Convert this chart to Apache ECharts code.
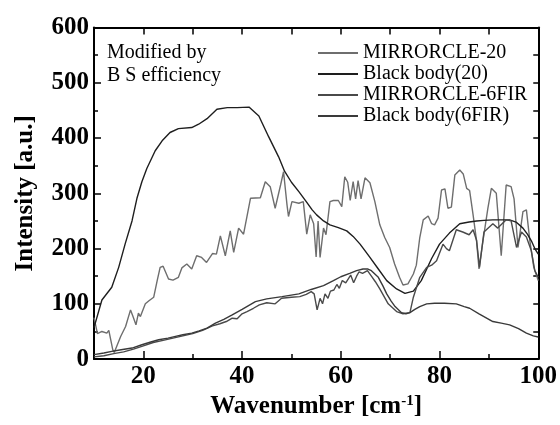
<!DOCTYPE html>
<html>
<head>
<meta charset="utf-8">
<script src="https://cdn.jsdelivr.net/npm/echarts@6/dist/echarts.min.js"></script>
<style>
html,body{margin:0;padding:0;background:#fff;}
#c{width:560px;height:425px;}
</style>
</head>
<body>
<div id="c"></div>
<script>
// ---- data ----
var seriesNames = ['MIRRORCLE-20', 'Black body(20)', 'MIRRORCLE-6FIR', 'Black body(6FIR)'];

var m20X = [10,10.7,11.6,12.6,13,13.8,14.1,15.4,16.4,17.4,17.9,18.5,19,19.4,20.4,21.2,22.1,22.8,23.4,24,25.1,26,27.1,27.8,28.8,29.8,30.8,31.8,32.8,34,34.8,35.6,36.6,37.6,38.3,39.3,40.3,41.7,43.7,44.7,45.7,46.7,47.8,48.4,49.1,49.4,50.1,51.5,52.4,53.1,53.8,54.5,55.0,55.4,55.8,56.5,57.0,57.8,58.5,59.5,60.2,60.8,61.4,61.9,62.5,63,63.5,64.1,64.9,65.9,66.9,67.9,68.9,69.9,70.9,71.9,72.6,73.6,74.7,75.3,76,76.7,77.7,78.4,79,79.7,80.4,81.1,81.7,82.4,83.1,84.1,84.8,85.5,86.1,86.8,87.5,88,88.8,89.8,90.5,91.5,92.5,93.5,94.5,95.1,95.9,96.9,97.6,98.3,99.1,100];
var m20Y = [75,46,50,47,52,17,12,41,59,89,77,62,83,77,100,106,112,142,166,168,145,143,148,165,172,163,187,184,175,191,190,223,187,232,193,237,226,291,292,321,312,273,315,339,279,258,285,282,285,226,261,245,185,250,184,237,225,285,287,287,276,330,320,287,321,290,323,290,328,319,285,243,220,202,172,148,134,136,154,170,220,252,259,245,243,255,306,308,273,275,333,342,335,309,305,261,214,163,214,273,309,300,187,315,312,290,202,267,270,214,166,142];

var bb20X = [10,11.6,13.6,15,16.3,17.7,18.7,19.7,20.7,22.4,23.8,25.4,27.1,29.8,31.2,32.9,34.9,37,39,41.4,43.4,45.4,47.4,48.6,50,51.5,53,54.2,55.1,56.5,57.8,59.5,61.2,62.5,63.9,65,65.9,67.6,69.3,71.3,73,74.7,76.3,78.4,80,82,84.1,86,87.5,89,90.8,92.5,94.2,95.5,96.9,97.8,98.6,99.3,100];
var bb20Y = [57,107,130,166,208,250,291,321,345,377,395,410,417,419,425,435,452,455,455,456,440,402,366,340,320,303,285,270,261,250,243,238,232,222,208,195,184,163,142,127,119,123,142,182,208,228,245,248,250,251,252,252,252,248,237,226,214,200,190];

var m6X = [10,12,14,16,18,20,22,24,26,28,30,32,34,35.5,36.8,38,39,40,41,42.3,43.5,45,46.7,48,50,51.7,53,54,54.6,55.2,55.8,56.3,56.8,57.4,57.9,58.6,59.2,59.7,60.3,61,62,62.6,63.2,63.7,64.4,65.4,66.2,67,67.9,69.6,71.3,72.6,74,74.7,76,77.4,78.4,79.4,80.7,81.4,82,83.4,84.7,86,86.8,87.5,88.1,89,90.8,91.8,93.5,94.5,95.6,96.6,97.6,98.6,99.3,100];
var m6Y = [4,6,10,13,18,24,30,34,38,42,46,52,60,64,68,74,73,82,86,92,98,102,100,110,112,113,117,122,118,89,110,100,118,110,123,125,135,128,142,138,152,138,150,158,155,160,150,140,127,100,86,82,84,112,148,166,170,178,208,200,196,234,230,225,234,215,166,230,245,237,252,250,202,230,221,196,160,148];

var bb6X = [10,12,13.6,15.5,17.7,19.7,21.5,23.1,25,26.5,28,29.8,31.3,32.9,34.6,36.3,38,40,42.7,45,48.1,51.5,54,56.5,58.5,60,61.8,63.2,64.5,65.5,66.2,67.6,68.5,69.3,70.2,71,72.3,73.2,74,75,76,77.4,79,81,83.4,85,86.1,88,90.8,92.5,94.2,96,97.6,99,100];
var bb6Y = [8,11,14,17,20,26,31,35,38,41,44,47,51,56,65,72,80,90,104,109,113,118,126,133,142,149,155,160,163,163,160,148,133,118,105,95,84,82,84,90,95,100,101,101,100,95,92,82,68,65,62,55,47,42,40];

var xLabelValues = [20, 40, 60, 80, 100];
var xMinorValues = [30, 50, 70, 90];

function pairs(xs, ys) { return xs.map(function (x, i) { return [x, ys[i]]; }); }

var chart = echarts.init(document.getElementById('c'), null, {renderer: 'canvas'});
var serif = 'Liberation Serif';
var lineColors = ['#6e6e6e', '#1e1e1e', '#4a4a4a', '#3a3a3a'];
var dataSets = [pairs(m20X, m20Y), pairs(bb20X, bb20Y), pairs(m6X, m6Y), pairs(bb6X, bb6Y)];

var option = {
  backgroundColor: '#fff',
  animation: false,
  grid: {left: 94, right: 20, top: 27.5, bottom: 63},
  legend: {
    orient: 'vertical',
    left: 313, top: 38,
    itemWidth: 40, itemHeight: 2, itemGap: 1,
    icon: 'rect',
    data: seriesNames,
    textStyle: {fontFamily: serif, fontSize: 20, color: '#000', lineHeight: 20}
  },
  graphic: [{
    type: 'text', left: 107, top: 41,
    style: {text: 'Modified by\nB S efficiency', font: '20px "Liberation Serif"', fill: '#000', lineHeight: 23}
  }],
  xAxis: [{
    type: 'value', position: 'bottom', min: 10, max: 100,
    axisLine: {lineStyle: {color: '#000', width: 2}},
    axisTick: {inside: true, length: 8, customValues: xLabelValues, lineStyle: {color: '#000', width: 1.5}},
    axisLabel: {customValues: xLabelValues, fontFamily: serif, fontWeight: 'bold', fontSize: 25, color: '#000', margin: 5},
    splitLine: {show: false},
    name: 'Wavenumber [cm{s|-1}]', nameLocation: 'middle', nameGap: 34,
    nameTextStyle: {fontFamily: serif, fontWeight: 'bold', fontSize: 25, color: '#000', lineHeight: 26,
      rich: {s: {fontFamily: serif, fontWeight: 'bold', fontSize: 15, verticalAlign: 'top', lineHeight: 26, padding: [0, 0, 10, 0]}}}
  }, {
    type: 'value', position: 'bottom', min: 10, max: 100, gridIndex: 0,
    axisLine: {show: false},
    axisTick: {inside: true, length: 5, customValues: xMinorValues, lineStyle: {color: '#000', width: 1.5}},
    axisLabel: {show: false}, splitLine: {show: false}
  }, {
    type: 'value', position: 'top', min: 10, max: 100, interval: 10,
    axisLine: {lineStyle: {color: '#000', width: 2}},
    axisTick: {inside: true, length: 7, lineStyle: {color: '#000', width: 1.5}},
    axisLabel: {show: false}, splitLine: {show: false}
  }],
  yAxis: [{
    type: 'value', position: 'left', min: 0, max: 600, interval: 100,
    axisLine: {show: true, lineStyle: {color: '#000', width: 2}},
    axisTick: {show: true, inside: true, length: 7, lineStyle: {color: '#000', width: 1.5}},
    minorTick: {show: true, splitNumber: 2, length: 4, lineStyle: {color: '#000', width: 1.5}},
    axisLabel: {fontFamily: serif, fontWeight: 'bold', fontSize: 25, color: '#000', margin: 5},
    splitLine: {show: false},
    name: 'Intensity [a.u.]', nameLocation: 'middle', nameGap: 56, nameRotate: 90,
    nameTextStyle: {fontFamily: serif, fontWeight: 'bold', fontSize: 25, color: '#000'}
  }, {
    type: 'value', position: 'right', min: 0, max: 600, interval: 50,
    axisLine: {show: true, lineStyle: {color: '#000', width: 2}},
    axisTick: {show: true, inside: true, length: 5, lineStyle: {color: '#000', width: 1.5}},
    axisLabel: {show: false}, splitLine: {show: false}
  }],
  series: seriesNames.map(function (n, i) {
    return {
      name: n, type: 'line', data: dataSets[i], xAxisIndex: 0, yAxisIndex: 0,
      symbol: 'none', showSymbol: false, clip: true,
      lineStyle: {color: lineColors[i], width: 1.4},
      itemStyle: {color: lineColors[i]}
    };
  })
};
chart.setOption(option);
</script>
</body>
</html>
